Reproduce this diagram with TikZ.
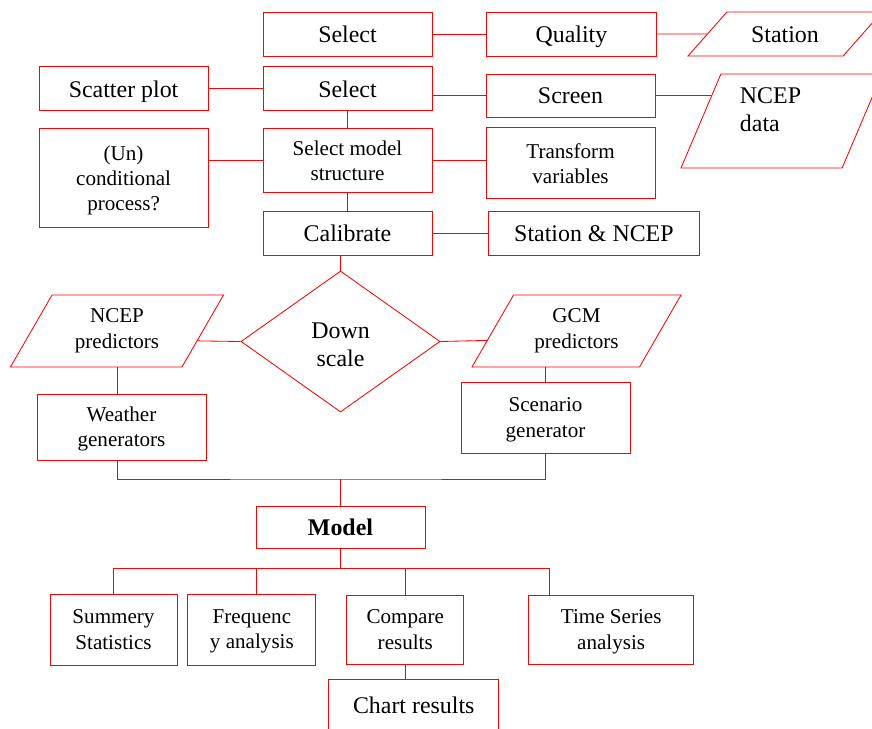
\documentclass[tikz,border=0pt]{standalone}
\usepackage{fontspec}
\setmainfont{Liberation Serif}
\usetikzlibrary{positioning,shapes.geometric}
\tikzset{
  every node/.style={inner sep=0pt},
  redline/.style={draw=red, line width=0.6pt},
}

\begin{document}
\begin{tikzpicture}[x=0.025cm, y=-0.025cm]
  \tikzstyle{item}=[rectangle, redline, align=center, text=black,
    minimum width=4.225cm, minimum height=1.1cm, text depth=0pt,
    font=\fontsize{17}{20}\selectfont]
  \tikzstyle{small}=[font=\fontsize{15}{17.8}\selectfont]
  \tikzstyle{data}=[trapezium, trapezium stretches body, redline,
    align=center, font=\fontsize{17}{20}\selectfont]
  \tikzstyle{decision}=[diamond, redline, aspect=1.41, text depth=0pt,
    minimum width=4.975cm, minimum height=3.525cm, align=center,
    font=\fontsize{17}{20}\selectfont]
  \tikzstyle{link}=[redline]

  \useasboundingbox (0,0) rectangle (872,728);

  % data preparation
  \node (Select) [item] at (347.5,34) {Select};
  \node (Quality) [item, right=1.35cm of Select] {Quality};
  \node (Station) [data, text height=21.95pt, text depth=9.35pt,
    trapezium left angle=48.5, trapezium right angle=131.5,
    minimum width=4.85cm] at (785,34) {Station};
  \node (Select2) [item, below=0.25cm of Select] {Select};
  \node (Scatter) [item, left=1.35cm of Select2] {Scatter plot};
  \node (Screen) [item, minimum height=1.075cm] at (570.5,95.5) {Screen};
  \node (NCEPdata) [data, align=left, text height=41.25pt, text depth=25.65pt,
    trapezium left angle=67, trapezium right angle=113,
    minimum width=5.025cm] at (781.5,121) {NCEP\hspace*{0.55cm}\\data};

  % model set-up
  \node (Structure) [item, small, minimum height=1.6cm, below=0.425cm of Select2]
    {Select model\\structure};
  \node (Uncond) [item, small, minimum height=2.475cm, below=0.425cm of Scatter]
    {(Un)\\conditional\\process?};
  \node (Transform) [item, small, minimum height=1.775cm, below=0.25cm of Screen]
    {Transform\\variables};
  \node (Calibrate) [item, below=0.45cm of Structure] {Calibrate};
  \node (StationNCEP) [item, minimum width=5.25cm, right=1.4cm of Calibrate]
    {Station \& NCEP};

  % downscaling
  \node (Down) [decision, text height=35.5pt] at (340.5,341.5) {Down\\scale};
  \node (NCEPpred) [data, small, text height=37.7pt, text depth=13.5pt,
    trapezium left angle=60, trapezium right angle=120,
    minimum width=5.325cm] at (117,331) {NCEP\\predictors};
  \node (GCMpred) [data, small, text height=37.7pt, text depth=13.5pt,
    trapezium left angle=60, trapezium right angle=120,
    minimum width=5.225cm] at (576.5,331) {GCM\\predictors};
  \node (Weather) [item, small, minimum height=1.65cm] at (121.5,427)
    {Weather\\generators};
  \node (Scenario) [item, small, minimum height=1.775cm] at (545.5,417.5)
    {Scenario\\generator};

  % results
  \node (Model) [item, minimum height=1.05cm, font=\fontsize{17}{20}\selectfont\bfseries]
    at (340.5,527) {Model};
  \node (Summery) [item, small, minimum width=3.175cm, minimum height=1.775cm]
    at (113.5,629.5) {Summery\\Statistics};
  \node (Freq) [item, small, minimum width=3.2cm, minimum height=1.775cm,
    right=0.25cm of Summery] {Frequenc\\y analysis};
  \node (Compare) [item, small, minimum width=2.925cm, minimum height=1.725cm,
    right=0.75cm of Freq] {Compare\\results};
  \node (TimeSeries) [item, small, minimum width=4.125cm, minimum height=1.725cm,
    right=1.6cm of Compare] {Time Series\\analysis};
  \node (Chart) [item, minimum width=4.25cm, minimum height=1.25cm,
    below=0.375cm of Compare, xshift=0.2125cm] {Chart results};

  % connectors
  \draw [link] (Select) -- (Quality);
  \draw [link] (Quality) -- (Station.180);
  \draw [link] (Scatter) -- (Select2);
  \draw [link] (Screen.west -| Select2.east) -- (Screen.west);
  \draw [link] (Screen.east) -- (NCEPdata.160);
  \draw [link] (Select2) -- (Structure);
  \draw [link] (Uncond.east |- Structure.west) -- (Structure.west);
  \draw [link] (Structure.east) -- (Structure.east -| Transform.west);
  \draw [link] (Structure) -- (Calibrate);
  \draw [link] (Calibrate) -- (StationNCEP);
  \draw [link] (Calibrate.south -| Down.north) -- (Down.north);
  \draw [link] (NCEPpred.-7) -- (Down.west);
  \draw [link] (Down.east) -- (GCMpred.186);
  \draw [link] (NCEPpred.south) -- (NCEPpred.south |- Weather.north);
  \draw [link] (GCMpred.south -| Scenario.north) -- (Scenario.north);

  \coordinate (Join) at (340.5,479);
  \draw [link] (Weather.south -| NCEPpred.south) |- (Join) -| (Scenario.south);
  \draw [link] (Join) -- (Model);

  \coordinate (DropF) at (256.5,568);
  \coordinate (DropR) at (549,568);
  \draw [link] (Model) -- (Model |- DropF);
  \draw [link] (Summery.north) |- (DropR) -- (DropR |- TimeSeries.north);
  \draw [link] (DropF) -- (DropF |- Freq.north);
  \draw [link] (Compare.north |- DropF) -- (Compare.north);
  \draw [link] (Compare.south) -- (Compare.south |- Chart.north);
\end{tikzpicture}
\end{document}
